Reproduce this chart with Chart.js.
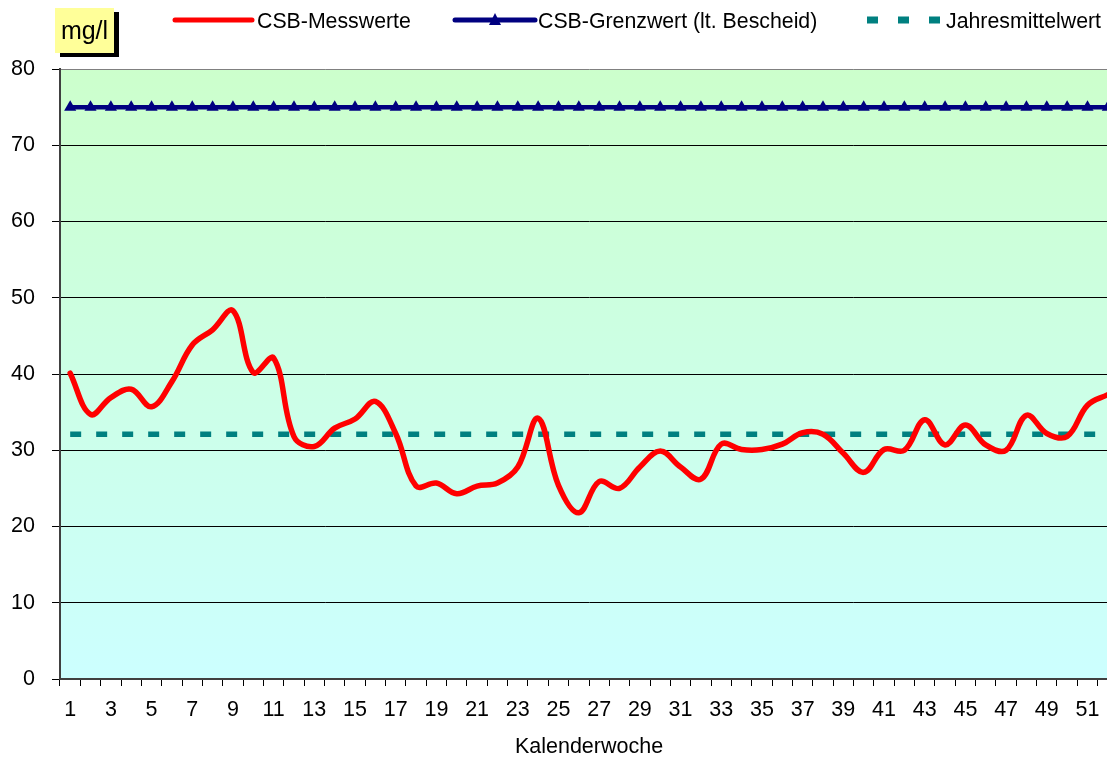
<!DOCTYPE html>
<html>
<head>
<meta charset="utf-8">
<script src="https://cdn.jsdelivr.net/npm/chart.js@4"></script>
<style>
  body { margin: 0; background: #fff; }
  #wrap { position: relative; width: 1107px; height: 758px; overflow: hidden; }
  #unit {
    position: absolute; left: 55px; top: 8px; width: 59px; height: 45px;
    background: #ffff99; box-shadow: 5px 4px 0 #000;
    font: 25px "Liberation Sans", Arial, sans-serif; line-height: 45px; text-align: center;
  }
</style>
</head>
<body>
<div id="wrap">
  <canvas id="chart" width="1125" height="758"></canvas>
  <div id="unit">mg/l</div>
</div>
<script>
// Kalenderwochen
const weeks = [1, 2, 3, 4, 5, 6, 7, 8, 9, 10, 11, 12, 13, 14, 15, 16, 17, 18, 19, 20, 21, 22, 23, 24, 25, 26,
    27, 28, 29, 30, 31, 32, 33, 34, 35, 36, 37, 38, 39, 40, 41, 42, 43, 44, 45, 46, 47, 48, 49, 50, 51, 52];

const messwerte = [40.1, 34.7, 36.9, 38.0, 35.7, 39.0, 43.8, 45.8, 48.3, 40.2, 42.1, 31.8, 30.5, 32.9, 34.1, 36.4,
    32.2, 25.3, 25.7, 24.3, 25.3, 25.7, 27.8, 34.2, 25.4, 21.8, 25.9, 25.0, 27.8, 29.9, 27.8, 26.2, 30.8, 30.1,
    30.1, 30.8, 32.3, 32.1, 29.6, 27.1, 30.1, 30.0, 34.0, 30.7, 33.3, 30.7, 30.0, 34.6, 32.2, 31.8, 35.9, 37.3];

const grenzwert = [75, 75, 75, 75, 75, 75, 75, 75, 75, 75, 75, 75, 75, 75, 75, 75, 75, 75, 75, 75, 75, 75, 75, 75, 75, 75,
    75, 75, 75, 75, 75, 75, 75, 75, 75, 75, 75, 75, 75, 75, 75, 75, 75, 75, 75, 75, 75, 75, 75, 75, 75, 75];

const jahresmittel = [32.1, 32.1, 32.1, 32.1, 32.1, 32.1, 32.1, 32.1, 32.1, 32.1, 32.1, 32.1, 32.1, 32.1, 32.1, 32.1,
    32.1, 32.1, 32.1, 32.1, 32.1, 32.1, 32.1, 32.1, 32.1, 32.1, 32.1, 32.1, 32.1, 32.1, 32.1, 32.1, 32.1, 32.1,
    32.1, 32.1, 32.1, 32.1, 32.1, 32.1, 32.1, 32.1, 32.1, 32.1, 32.1, 32.1, 32.1, 32.1, 32.1, 32.1, 32.1, 32.1];

const seriesNames = ['CSB-Messwerte', 'CSB-Grenzwert (lt. Bescheid)', 'Jahresmittelwert'];
const yTicks = [0, 10, 20, 30, 40, 50, 60, 70, 80];

const FONT = '"Liberation Sans", Arial, sans-serif';
Chart.defaults.font.family = FONT;
Chart.defaults.color = '#000';

// Hintergrund-Verlauf der Zeichenfläche
const plotBackground = {
    id: 'plotBackground',
    beforeDraw(chart) {
        const { ctx, chartArea: a } = chart;
        const g = ctx.createLinearGradient(0, a.top, 0, a.bottom);
        g.addColorStop(0, '#ccffcc');
        g.addColorStop(1, '#ccffff');
        ctx.save();
        ctx.fillStyle = g;
        ctx.fillRect(a.left, a.top, a.right - a.left, a.bottom - a.top);
        ctx.restore();
    }
};

// Legende oben, wie im Original frei positioniert
const topLegend = {
    id: 'topLegend',
    afterDraw(chart) {
        const ctx = chart.ctx;
        const y = 20;
        const spots = [
            { x1: 175, x2: 252, tx: 257 },
            { x1: 455, x2: 535, tx: 538 },
            { x1: 867, x2: 940, tx: 946 }
        ];
        ctx.save();
        chart.data.datasets.forEach((ds, i) => {
            const s = spots[i];
            ctx.strokeStyle = ds.borderColor;
            ctx.lineWidth = i === 2 ? 7 : 5;
            ctx.lineCap = i === 2 ? 'butt' : 'round';
            ctx.setLineDash(i === 2 ? [11, 20] : []);
            ctx.beginPath();
            ctx.moveTo(s.x1, y);
            ctx.lineTo(s.x2, y);
            ctx.stroke();
            if (i === 1) {
                ctx.fillStyle = ds.borderColor;
                const mx = 495;
                ctx.beginPath();
                ctx.moveTo(mx, y - 7);
                ctx.lineTo(mx + 6, y + 5);
                ctx.lineTo(mx - 6, y + 5);
                ctx.closePath();
                ctx.fill();
            }
            ctx.setLineDash([]);
            ctx.fillStyle = '#000';
            ctx.font = '21.3px ' + FONT;
            ctx.textBaseline = 'middle';
            ctx.fillText(ds.label, s.tx, y + 2);
        });
        ctx.restore();
    }
};

const canvas = document.getElementById('chart');
new Chart(canvas, {
    type: 'line',
    data: {
        labels: weeks,
        datasets: [
            {
                label: seriesNames[0], data: messwerte,
                borderColor: '#ff0000', borderWidth: 5.5, tension: 0.38,
                pointRadius: 0, borderCapStyle: 'round', borderJoinStyle: 'round', order: 1
            },
            {
                label: seriesNames[1], data: grenzwert,
                borderColor: '#000080', backgroundColor: '#000080', borderWidth: 4.5,
                pointStyle: 'triangle', pointRadius: 7, pointBorderWidth: 0, order: 2
            },
            {
                label: seriesNames[2], data: jahresmittel,
                borderColor: '#008080', borderWidth: 5.5, borderDash: [11, 15],
                borderCapStyle: 'butt', pointRadius: 0, order: 3
            }
        ]
    },
    options: {
        responsive: false,
        animation: false,
        layout: { padding: { top: 69, right: 3, left: 0, bottom: 0 } },
        plugins: {
            legend: { display: false },
            tooltip: { enabled: false }
        },
        scales: {
            x: {
                offset: true,
                grid: { offset: true, drawOnChartArea: false, drawTicks: true, tickLength: 7, tickColor: '#000' },
                border: { display: true, color: '#404040', width: 2 },
                ticks: {
                    autoSkip: false, maxRotation: 0, padding: 11,
                    font: { size: 21.5 },
                    callback: (v, i) => (i % 2 === 0 ? weeks[i] : '')
                },
                title: { display: true, text: 'Kalenderwoche', font: { size: 21.5, lineHeight: 1 }, padding: { top: 0, bottom: 0 } },
                afterFit: s => { s.height = 79; }
            },
            y: {
                min: 0, max: 80,
                afterBuildTicks: s => { s.ticks = yTicks.map(v => ({ value: v })); },
                grid: {
                    color: c => (c.tick.value === 80 ? '#808080' : '#000'),
                    lineWidth: 1, tickLength: 8, tickColor: '#000'
                },
                border: { display: true, color: '#404040', width: 2 },
                ticks: { padding: 17, font: { size: 21.5 } },
                afterFit: s => { s.width = 60; }
            }
        }
    },
    plugins: [plotBackground, topLegend]
});
</script>
</body>
</html>
